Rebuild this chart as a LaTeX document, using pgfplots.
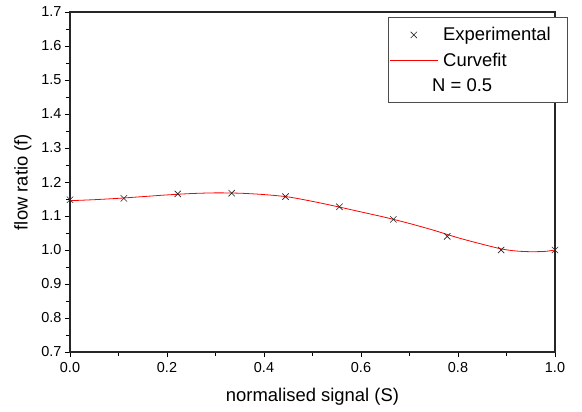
\documentclass[border=0pt]{standalone}
\usepackage{pgfplots}
\pgfplotsset{compat=1.18}
\usepackage{fontspec}
\setmainfont{Liberation Sans}
\pgfplotsset{
  mylineimg/.style={legend image code/.code={\draw[red, line width=0.8pt] (0bp,0bp) -- (48bp,0bp);}},
  mymarkimg/.style={legend image code/.code={\draw[black!85, line width=0.6pt] plot[mark=x, mark size=4.5bp] coordinates {(24bp,0bp)};}},
}
\begin{document}
\begin{tikzpicture}
\begin{axis}[
  scale only axis, width=485bp, height=340bp,
  xmin=0, xmax=1, ymin=0.7, ymax=1.7,
  xtick={0,0.2,...,1.0}, ytick={0.7,0.8,...,1.7},
  minor x tick num=1, minor y tick num=1,
  xtick pos=left, ytick pos=left,
  tick align=outside,
  major tick length=5bp, minor tick length=3.5bp,
  every tick/.style={black, line width=0.9pt},
  axis line style={line width=1.2pt, black!85},
  /pgf/number format/assume math mode=true,
  /pgf/number format/.cd, fixed, fixed zerofill, precision=1, /pgfplots/.cd,
  tick label style={font=\fontsize{14.5}{16}\selectfont},
  xticklabel style={yshift=-2bp},
  xlabel={normalised signal (S)}, ylabel={flow ratio (f)},
  label style={font=\fontsize{18.5}{21}\selectfont},
  xlabel style={yshift=-9bp}, ylabel style={yshift=3bp},
  legend style={at={(0.6557,0.985)}, anchor=north west, draw=black!70, line width=0.8pt,
    font=\fontsize{18.5}{21}\selectfont, inner xsep=1bp, inner ysep=8bp, row sep=6.5bp,
    cells={anchor=west}},
  legend cell align=left,
  clip=false,
]
\addplot[only marks, mark=x, mark size=4.5bp, black!85, line width=0.6pt, mymarkimg] coordinates {
(0,1.148) (0.1111,1.152) (0.2222,1.165) (0.3333,1.167) (0.4444,1.157)
(0.5556,1.127) (0.6667,1.090) (0.7778,1.040) (0.8889,1.000) (1.0,1.000)};
\addlegendentry{\makebox[124bp][l]{\hspace*{3bp}Experimental}}
\addplot[red, line width=0.8pt, smooth, tension=0.5, mylineimg] coordinates {
(0,1.145) (0.05,1.148) (0.1,1.152) (0.15,1.157) (0.2,1.162) (0.25,1.166) (0.3,1.168)
(0.35,1.167) (0.4,1.163) (0.45,1.156) (0.5,1.143) (0.55,1.128) (0.6,1.112)
(0.65,1.096) (0.7,1.078) (0.75,1.058) (0.8,1.036) (0.85,1.017) (0.89,1.003)
(0.92,0.997) (0.95,0.995) (0.98,0.996) (1.0,1.0)};
\addlegendentry{\hspace*{3bp}Curvefit}
\addlegendimage{empty legend}
\addlegendentry{\hspace*{-8bp}N = 0.5}
\end{axis}
\path (current axis.south west) ++(-70bp,-60bp) rectangle ++(582bp,412bp);
\end{tikzpicture}
\end{document}
